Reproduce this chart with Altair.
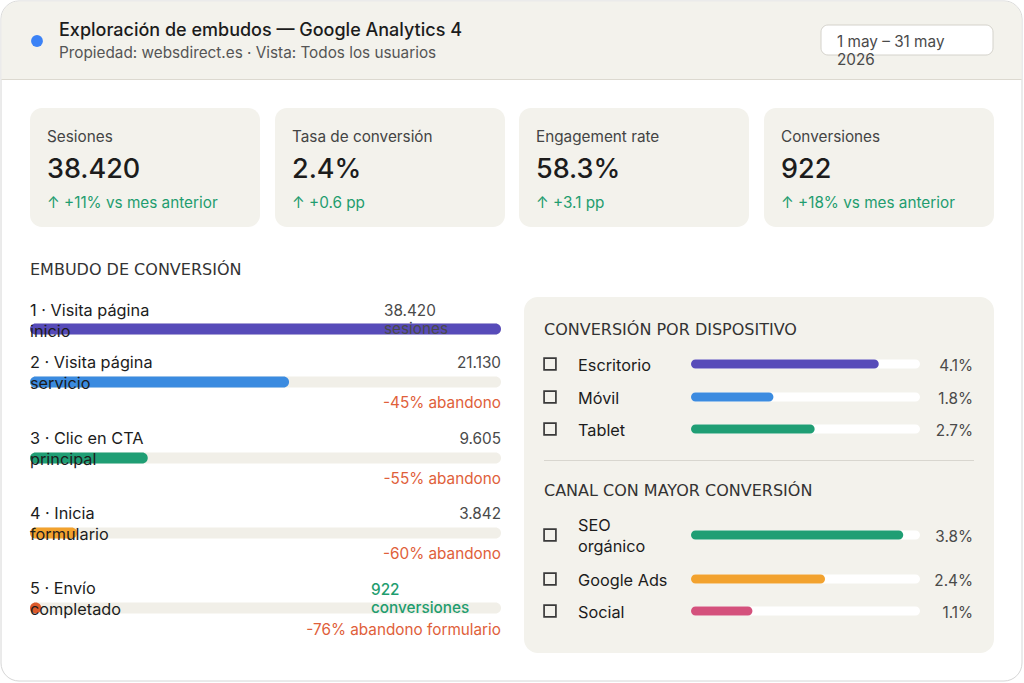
import altair as alt
import pandas as pd

# ---------------- data ----------------
title = "Exploración de embudos — Google Analytics 4"
subtitle = "Propiedad: websdirect.es · Vista: Todos los usuarios"
date_lines = ["1 may – 31 may", "2026"]

kpi_labels = ["Sesiones", "Tasa de conversión", "Engagement rate", "Conversiones"]
kpi_values = ["38.420", "2.4%", "58.3%", "922"]
kpi_deltas = ["↑ +11% vs mes anterior", "↑ +0.6 pp", "↑ +3.1 pp", "↑ +18% vs mes anterior"]

funnel_title = "EMBUDO DE CONVERSIÓN"
funnel_steps = [["1 · Visita página", "inicio"], ["2 · Visita página", "servicio"],
                ["3 · Clic en CTA", "principal"], ["4 · Inicia", "formulario"],
                ["5 · Envío", "completado"]]
funnel_values = [38420, 21130, 9605, 3842, 922]
funnel_units = ["sesiones", None, None, None, "conversiones"]
funnel_drop = [None, "-45% abandono", "-55% abandono", "-60% abandono", "-76% abandono formulario"]
funnel_colors = ["#574bb9", "#3b8be0", "#1f9e74", "#f2a22e", "#dc5a2c"]

device_title = "CONVERSIÓN POR DISPOSITIVO"
device_names = [["Escritorio"], ["Móvil"], ["Tablet"]]
device_rates = [4.1, 1.8, 2.7]
device_colors = ["#574bb9", "#3b8be0", "#1f9e74"]

channel_title = "CANAL CON MAYOR CONVERSIÓN"
channel_names = [["SEO", "orgánico"], ["Google Ads"], ["Social"]]
channel_rates = [3.8, 2.4, 1.1]
channel_colors = ["#1f9e74", "#f2a22e", "#d4517c"]

# ---------------- style ----------------
FONT = "Inter"
HEAD_FONT = "DejaVu Sans"
DARK = "#1c1c1c"
GREY = "#4a4a4a"
GREEN = "#1f9d6f"
RED = "#e0603a"
PANEL = "#f3f2ec"
TRACK = "#f1efe8"
S_SMALL = 15.3
S_BODY = 16.3

PXX = alt.Scale(domain=[0, 1024], range=[0, 1024], nice=False, zero=False)
PY = alt.Scale(domain=[0, 683], range=[0, 683], nice=False, zero=False)


def fmt(v):
    return f"{v:,}".replace(",", ".")


def txt(rows, size, color, align="left", weight="normal", font=FONT):
    df = pd.DataFrame(rows, columns=["x", "y", "t"])
    return alt.Chart(df).mark_text(
        align=align, baseline="middle", fontSize=size, color=color,
        fontWeight=weight, font=font, dy=1.5
    ).encode(
        x=alt.X("x:Q", scale=PXX, axis=None),
        y=alt.Y("y:Q", scale=PY, axis=None),
        text="t:N",
    )


def rect(rows, fill, stroke=None, **kw):
    df = pd.DataFrame(rows, columns=["x0", "x1", "y0", "y1"])
    mk = dict(fill=fill, **kw)
    if stroke:
        mk.update(stroke=stroke, strokeWidth=1)
    return alt.Chart(df).mark_rect(**mk).encode(
        x=alt.X("x0:Q", scale=PXX, axis=None), x2="x1:Q",
        y=alt.Y("y0:Q", scale=PY, axis=None), y2="y1:Q",
    )


def bars(values, domain_max, centers, colors, xr, h, track_fill):
    scale = alt.Scale(domain=[0, domain_max], range=xr, nice=False, zero=False)
    df = pd.DataFrame({
        "v": values, "zero": 0.0, "top": float(domain_max),
        "y0": [c - h / 2 for c in centers], "y1": [c + h / 2 for c in centers],
        "c": colors,
    })
    base = alt.Chart(df)
    track = base.mark_rect(fill=track_fill, cornerRadius=h / 2).encode(
        x=alt.X("zero:Q", scale=scale, axis=None), x2="top:Q",
        y=alt.Y("y0:Q", scale=PY, axis=None), y2="y1:Q",
    )
    fill = base.mark_rect(cornerRadius=h / 2).encode(
        x=alt.X("zero:Q", scale=scale, axis=None), x2="v:Q",
        y=alt.Y("y0:Q", scale=PY, axis=None), y2="y1:Q",
        color=alt.Color("c:N", scale=None),
    )
    return [track, fill]


layers = []

# frame & header
layers.append(rect([[1, 1022, 1, 681]], "white", stroke="#d6d6d6", cornerRadius=18))
layers.append(rect([[1.5, 1021.5, 1.5, 79]], PANEL, cornerRadiusTopLeft=17, cornerRadiusTopRight=17))
layers.append(rect([[1.5, 1021.5, 79, 80]], "#dcd9d0"))
layers.append(alt.Chart(pd.DataFrame({"x": [37], "y": [41]})).mark_circle(
    size=140, color="#3b82f6", opacity=1).encode(
    x=alt.X("x:Q", scale=PXX, axis=None), y=alt.Y("y:Q", scale=PY, axis=None)))
layers.append(txt([[59, 29, title]], 18, DARK, weight=500))
layers.append(txt([[59, 51, subtitle]], S_SMALL, "#555555"))
layers.append(rect([[821, 993, 25, 55]], "white", stroke="#d4d2cb", cornerRadius=7))
layers.append(txt([[837, 40, date_lines[0]], [837, 58, date_lines[1]]], S_SMALL, GREY))

# KPI cards
kx = [30, 275, 519, 764]
layers.append(rect([[x, x + 230, 108, 227] for x in kx], PANEL, cornerRadius=12))
layers.append(txt([[x + 17, 135, l] for x, l in zip(kx, kpi_labels)], S_SMALL, "#444444"))
layers.append(txt([[x + 17, 168, v] for x, v in zip(kx, kpi_values)], 27, DARK, weight=500))
layers.append(txt([[x + 17, 201, d] for x, d in zip(kx, kpi_deltas)], S_SMALL, GREEN))

# funnel
layers.append(txt([[30, 268, funnel_title]], 16, "#333333", font=HEAD_FONT))
label_y = [309, 361, 437, 512, 587]
bar_c = [329, 382, 458, 533, 608]
layers += bars(funnel_values, max(funnel_values), bar_c, funnel_colors, [30, 501], 11, TRACK)
lab_rows = []
for (l1, l2), y in zip(funnel_steps, label_y):
    lab_rows.append([30, y, l1])
    lab_rows.append([30, y + 21, l2])
layers.append(txt(lab_rows, S_BODY, DARK))
# values
val_right = [[501, y, fmt(v)] for v, u, y in zip(funnel_values, funnel_units, label_y) if u is None]
layers.append(txt(val_right, S_SMALL, GREY, align="right"))
layers.append(txt([[384, label_y[0], fmt(funnel_values[0])], [384, label_y[0] + 18, funnel_units[0]]], S_SMALL, GREY))
layers.append(txt([[371, label_y[4] + 1, fmt(funnel_values[4])], [371, label_y[4] + 19, funnel_units[4]]], S_SMALL, GREEN, weight=500))
drop_y = [None, 401, 477, 552, 628]
layers.append(txt([[501, y, d] for d, y in zip(funnel_drop, drop_y) if d], S_SMALL, RED, align="right"))

# right panel
layers.append(rect([[524, 994, 297, 653]], PANEL, cornerRadius=14))
layers.append(txt([[544, 328, device_title]], 16, "#333333", font=HEAD_FONT))
layers.append(txt([[544, 489, channel_title]], 16, "#333333", font=HEAD_FONT))
layers.append(rect([[544, 974, 460, 461]], "#d8d6cf"))

dev_y = [364, 397, 429]
ch_y = [535, 579, 611]
layers += bars(device_rates, 5, dev_y, device_colors, [691, 920], 9, "white")
layers += bars(channel_rates, 4.1, ch_y, channel_colors, [691, 920], 9, "white")

box = pd.DataFrame({"x": [550] * 6, "y": dev_y + ch_y})
layers.append(alt.Chart(box).mark_point(
    shape="square", filled=False, size=140, stroke="#3a3a3a", strokeWidth=1.7, opacity=1).encode(
    x=alt.X("x:Q", scale=PXX, axis=None), y=alt.Y("y:Q", scale=PY, axis=None)))

name_rows = []
for names, y in zip(device_names + channel_names, dev_y + ch_y):
    if len(names) == 1:
        name_rows.append([578, y, names[0]])
    else:
        name_rows.append([578, y - 10.5, names[0]])
        name_rows.append([578, y + 10.5, names[1]])
layers.append(txt(name_rows, S_BODY, DARK))
rate_rows = [[973, y, f"{r}%"] for r, y in zip(device_rates + channel_rates, dev_y + ch_y)]
layers.append(txt(rate_rows, S_SMALL, GREY, align="right"))

chart = alt.layer(*layers).resolve_scale(x="independent").properties(
    width=1024, height=683, autosize=alt.AutoSizeParams(type="none"), padding=0,
    background="white",
).configure_view(stroke=None)

chart.save("out.html", embed_options={"renderer": "svg", "actions": False})
